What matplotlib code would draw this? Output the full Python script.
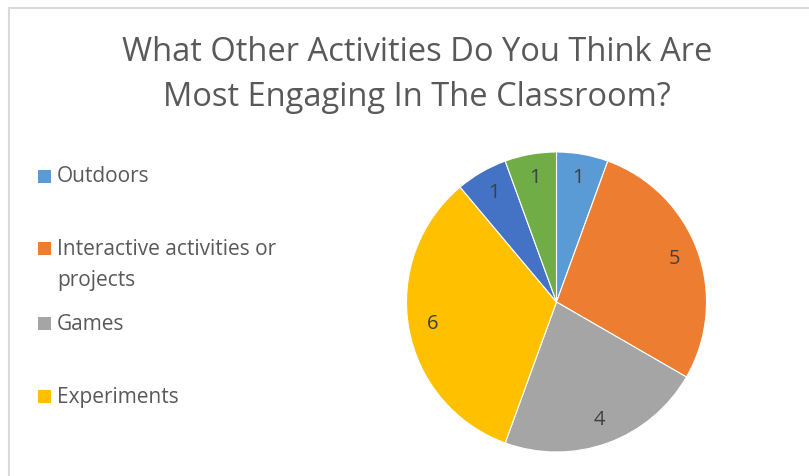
import matplotlib
matplotlib.use('Agg')
import matplotlib.pyplot as plt
from matplotlib.patches import Rectangle

plt.rcParams['font.family'] = ['Open Sans', 'DejaVu Sans']

labels = ['Outdoors', 'Interactive activities or\nprojects', 'Games', 'Experiments', 'Other', 'Not sure']
counts = [1, 5, 4, 6, 1, 1]
colors = ['#5B9BD5', '#ED7D31', '#A5A5A5', '#FFC000', '#4472C4', '#70AD47']
legend_shown = 4

W, H = 809, 476
fig = plt.figure(figsize=(W / 100, H / 100), dpi=100)

# light chart-area border
fig.patches.append(Rectangle((9 / W, -0.01), 1.0, (H - 8) / H + 0.01, transform=fig.transFigure,
                             fill=False, edgecolor='#d9d9d9', linewidth=1.5))

fig.text(417 / W, 1 - 75 / H, 'What Other Activities Do You Think Are\nMost Engaging In The Classroom?',
         ha='center', va='center', fontsize=23.5, color='#595959', linespacing=1.45)

# pie centered at (556, 302) px with radius 150 px
cx, cy, r = 556.5, 302, 150
ax = fig.add_axes([(cx - r) / W, (H - cy - r) / H, 2 * r / W, 2 * r / H])
wedges, texts = ax.pie(counts, colors=colors, startangle=90, counterclock=False,
                       labels=[str(c) for c in counts], labeldistance=0.84,
                       wedgeprops=dict(edgecolor='white', linewidth=0.8),
                       textprops=dict(fontsize=14.5, color='#404040'))
for t in texts:
    t.set_ha('center')
    t.set_va('center')
ax.set_xlim(-1, 1)
ax.set_ylim(-1, 1)
ax.set_aspect('equal')

# legend drawn by hand: Excel-style uneven slots
legend_y = [177, 249, 324, 397]
for i in range(legend_shown):
    y = legend_y[i]
    fig.patches.append(Rectangle((38 / W, 1 - (y + 6) / H), 13 / W, 13 / H, transform=fig.transFigure,
                                 facecolor=wedges[i].get_facecolor(), edgecolor='none'))
    multi = '\n' in labels[i]
    fig.text(57 / W, 1 - (y - 10) / H if multi else 1 - y / H, labels[i],
             ha='left', va='top' if multi else 'center',
             fontsize=15, color='#595959', linespacing=1.65)

fig.savefig('out.png', dpi=100)
